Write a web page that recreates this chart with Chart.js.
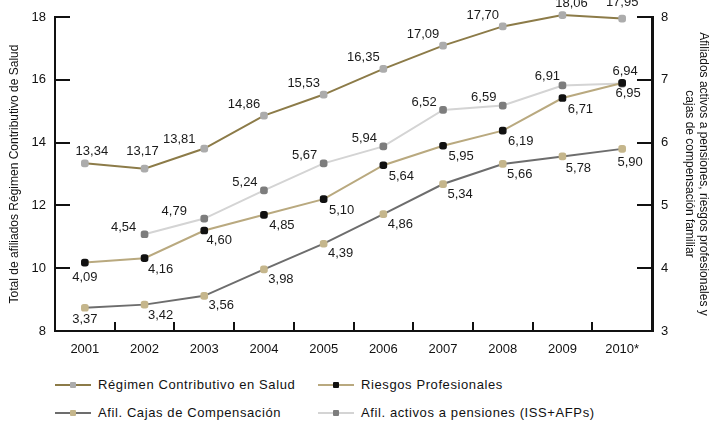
<!DOCTYPE html>
<html>
<head>
<meta charset="utf-8">
<script src="https://cdn.jsdelivr.net/npm/chart.js@4.4.1/dist/chart.umd.min.js"></script>
<style>
  body { margin: 0; background: #fff; font-family: "Liberation Sans", Arial, sans-serif; }
  #wrap { position: relative; width: 713px; height: 425px; overflow: hidden; }
  #chartBox { position: absolute; left: 0; top: 0; width: 713px; height: 370px; }
  .item { position: absolute; display: flex; align-items: center; font-size: 13px; letter-spacing: 0.6px; color: #111; white-space: nowrap; }
  .swatch { position: relative; width: 36px; height: 10px; margin-right: 7px; }
  .swatch .ln { position: absolute; left: 0; right: 0; top: 4px; height: 2px; }
  .swatch .pt { position: absolute; left: 15px; top: 2px; width: 6px; height: 6px; border-radius: 1px; }
</style>
</head>
<body>
<div id="wrap">
  <div id="chartBox"><canvas id="chart"></canvas></div>
  <div id="legend"></div>
</div>
<script>
// --- DATA ---
const years = ["2001", "2002", "2003", "2004", "2005", "2006", "2007", "2008", "2009", "2010*"];
const seriesNames = [
  "Régimen Contributivo en Salud",
  "Riesgos Profesionales",
  "Afil. Cajas de Compensación",
  "Afil. activos a pensiones (ISS+AFPs)"
];
const regimenSalud = [13.34, 13.17, 13.81, 14.86, 15.53, 16.35, 17.09, 17.70, 18.06, 17.95]; // left axis
const riesgosProf = [4.09, 4.16, 4.60, 4.85, 5.10, 5.64, 5.95, 6.19, 6.71, 6.95];         // right axis
const cajasComp = [3.37, 3.42, 3.56, 3.98, 4.39, 4.86, 5.34, 5.66, 5.78, 5.90];           // right axis
const pensiones = [null, 4.54, 4.79, 5.24, 5.67, 5.94, 6.52, 6.59, 6.91, 6.94];           // right axis
const leftTitle = "Total de afiliados Régimen Contributivo de Salud";
const rightTitle = ["Afiliados activos a pensiones, riesgos profesionales y", "cajas de compensación familiar"];

const FONT = '"Liberation Sans", Arial, sans-serif';
Chart.defaults.font.family = FONT;
Chart.defaults.color = "#111";

const fmt = v => v.toFixed(2).replace(".", ",");

// value labels next to each point
const pointLabels = {
  id: "pointLabels",
  afterDatasetsDraw(chart) {
    const ctx = chart.ctx;
    ctx.save();
    ctx.font = "13px " + FONT;
    ctx.fillStyle = "#1a1a1a";
    ctx.textAlign = "center";
    ctx.textBaseline = "middle";
    chart.data.datasets.forEach((ds, di) => {
      const meta = chart.getDatasetMeta(di);
      meta.data.forEach((pt, i) => {
        const v = ds.data[i];
        if (v === null || v === undefined) return;
        const off = (ds.labelOffsets && ds.labelOffsets[i]) || ds.labelOffset;
        ctx.fillText(fmt(v), pt.x + off[0], pt.y + off[1]);
      });
    });
    ctx.restore();
  }
};

// tick marks pointing into the plot
const inwardTicks = {
  id: "inwardTicks",
  afterDraw(chart) {
    const { ctx, chartArea, scales } = chart;
    ctx.save();
    ctx.strokeStyle = "#111";
    ctx.lineWidth = 2;
    const seg = (x1, y1, x2, y2) => { ctx.beginPath(); ctx.moveTo(x1, y1); ctx.lineTo(x2, y2); ctx.stroke(); };
    scales.y.ticks.forEach(t => { const y = Math.round(scales.y.getPixelForValue(t.value)); seg(chartArea.left, y, chartArea.left + 15, y); });
    scales.y1.ticks.forEach(t => { const y = Math.round(scales.y1.getPixelForValue(t.value)); seg(chartArea.right - 15, y, chartArea.right, y); });
    for (let i = 0; i < years.length - 1; i++) {
      const x = Math.round((scales.x.getPixelForValue(i) + scales.x.getPixelForValue(i + 1)) / 2);
      seg(x, chartArea.bottom, x, chartArea.bottom - 9);
    }
    ctx.restore();
  }
};

const datasets = [
  {
    label: seriesNames[0], data: regimenSalud, yAxisID: "y",
    borderColor: "#8c7b48", pointBackgroundColor: "#acacac", pointBorderColor: "#acacac",
    labelOffset: [-20, -11],
    labelOffsets: [[7, -12], [-2, -17], [-25, -9], null, null, null, null, null, [9, -12], [0, -16]]
  },
  {
    label: seriesNames[1], data: riesgosProf, yAxisID: "y1",
    borderColor: "#b9a97f", pointBackgroundColor: "#111", pointBorderColor: "#111",
    labelOffset: [18, 11],
    labelOffsets: [[0, 15], [16, 11], [15, 10], null, null, null, null, null, null, [6, 10]]
  },
  {
    label: seriesNames[2], data: cajasComp, yAxisID: "y1",
    borderColor: "#6d6d6d", pointBackgroundColor: "#c5b68c", pointBorderColor: "#c5b68c",
    labelOffset: [17, 10],
    labelOffsets: [[0, 12], [16, 11], null, null, null, null, null, null, [16, 12], [8, 14]]
  },
  {
    label: seriesNames[3], data: pensiones, yAxisID: "y1",
    borderColor: "#d4d4d4", pointBackgroundColor: "#7d7d7d", pointBorderColor: "#7d7d7d",
    labelOffset: [-19, -8],
    labelOffsets: [null, [-21, -7], [-30, -7], null, null, null, null, null, [-15, -9], [3, -12]]
  }
];
datasets.forEach(d => Object.assign(d, {
  borderWidth: 2, pointStyle: "rectRounded", pointRadius: 3.3, pointHoverRadius: 3.3,
  fill: false, tension: 0, clip: false, spanGaps: false
}));

new Chart(document.getElementById("chart"), {
  type: "line",
  data: { labels: years, datasets: datasets },
  options: {
    responsive: true,
    maintainAspectRatio: false,
    animation: false,
    layout: { padding: { top: 17, left: 0, right: 0, bottom: 0 } },
    plugins: { legend: { display: false }, tooltip: { enabled: false } },
    scales: {
      x: {
        offset: true,
        grid: { display: false, drawTicks: false },
        border: { display: true, color: "#111", width: 2 },
        ticks: { font: { size: 13 }, padding: 11, maxRotation: 0 },
        afterFit: s => { s.height = 39; }
      },
      y: {
        position: "left", min: 8, max: 18,
        grid: { display: false, drawTicks: false },
        border: { display: true, color: "#111", width: 2 },
        ticks: { stepSize: 2, font: { size: 13 }, padding: 9 },
        title: { display: true, text: leftTitle, font: { size: 12 }, padding: { top: 7 } },
        afterFit: s => { s.width = 55; }
      },
      y1: {
        position: "right", min: 3, max: 8,
        grid: { display: false, drawTicks: false },
        border: { display: true, color: "#111", width: 3 },
        ticks: { stepSize: 1, font: { size: 13 }, padding: 9 },
        title: { display: true, text: rightTitle, font: { size: 12 }, padding: { top: 2 } },
        afterFit: s => { s.width = 61; }
      }
    }
  },
  plugins: [pointLabels, inwardTicks]
});

// --- HTML LEGEND (2 x 2) ---
const legendSpots = [[55, 377], [318, 377], [55, 405], [318, 405]];
const legendEl = document.getElementById("legend");
datasets.forEach((d, i) => {
  const item = document.createElement("div");
  item.className = "item";
  item.style.left = legendSpots[i][0] + "px";
  item.style.top = legendSpots[i][1] + "px";
  item.innerHTML = '<span class="swatch"><span class="ln" style="background:' + d.borderColor +
    '"></span><span class="pt" style="background:' + d.pointBackgroundColor + '"></span></span>' +
    '<span>' + d.label + '</span>';
  legendEl.appendChild(item);
});
</script>
</body>
</html>
